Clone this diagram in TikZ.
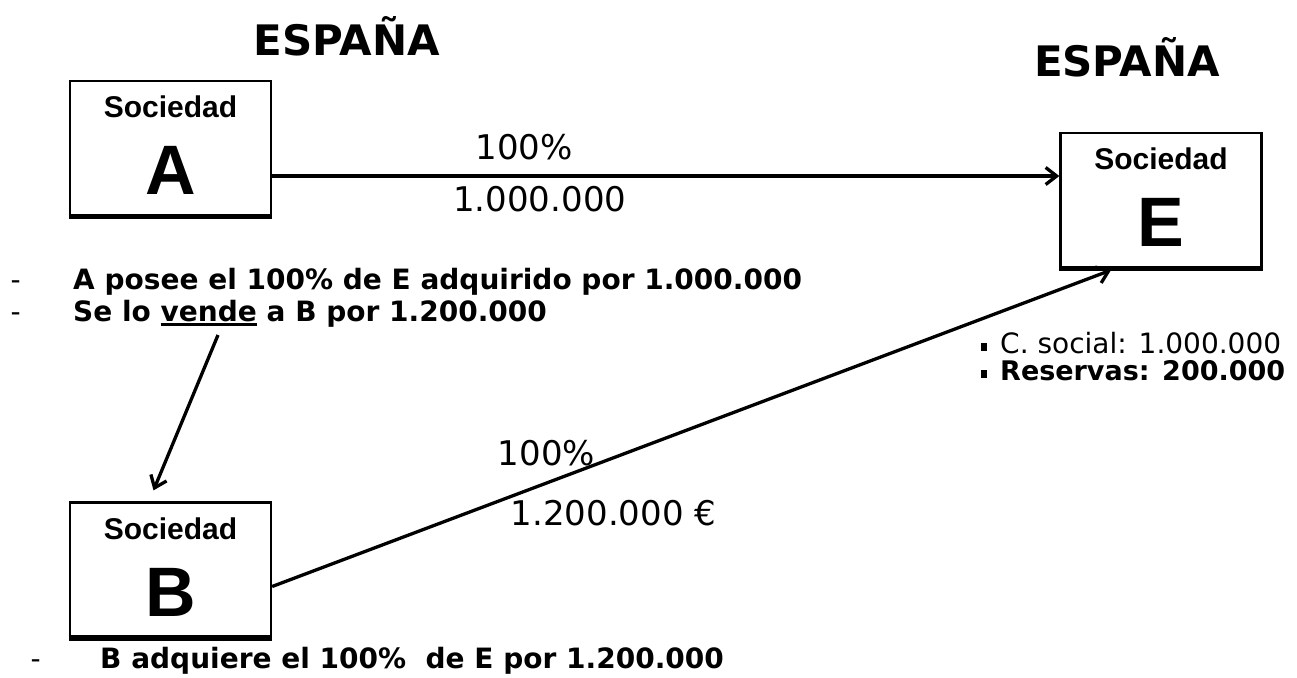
\documentclass[tikz,border=0pt]{standalone}
\usepackage{fontspec}
\setmainfont{DejaVu Sans}
\newfontfamily\arialfont{Liberation Sans}
\usetikzlibrary{arrows.meta, calc, positioning}
\newcommand{\pxsize}[1]{\fontsize{#1}{#1}\selectfont}
\newcommand{\dashmark}[1]{\makebox[#1][l]{\mdseries-}}
\newcommand{\sqmark}{\makebox[19pt][l]{\rule[2pt]{6pt}{8pt}}}
\newcommand{\ulined}[1]{\setbox0\hbox{#1}\rlap{\rule[-4.5pt]{\wd0}{2.5pt}}\box0\relax}
\tikzstyle{block} = [draw, line width=2.3pt, minimum width=201pt,
    minimum height=136pt, inner sep=0pt]
\tikzstyle{soclabel} = [font=\arialfont\bfseries\pxsize{30}, anchor=north,
    inner sep=0pt, yshift=-16pt]
\tikzstyle{letlabel} = [font=\arialfont\bfseries\pxsize{70}, anchor=south,
    inner sep=0pt, yshift=23pt]
\tikzstyle{thickbase} = [line width=5.5pt]
\tikzset{link/.style={line width=3.3pt,
    -{Straight Barb[length=11pt,width=17pt]}}}
\tikzstyle{country} = [font=\bfseries\pxsize{42}, anchor=base, inner sep=0pt]
\tikzstyle{amount} = [font=\pxsize{34}]
\tikzstyle{note} = [font=\bfseries\pxsize{28}, anchor=base west, inner sep=0pt]
\tikzstyle{capital} = [font=\pxsize{28}, anchor=base west, inner sep=0pt]

\begin{document}
\begin{tikzpicture}[x=1pt, y=-1pt]
  \useasboundingbox (0,0) rectangle (1297,677);

  % Place the blocks
  \node [country] (es-left) at (347,56) {ESPAÑA};
  \node [country] (es-right) at (1127,77) {ESPAÑA};
  \node [block, label={[soclabel]north:Sociedad},
    label={[letlabel]south:A}] (A) at (170.5,149) {};
  \node [block, label={[soclabel]north:Sociedad},
    label={[letlabel]south:E}] (E) at (1161,201) {};
  \node [block, label={[soclabel]north:Sociedad},
    label={[letlabel]south:B}] (B) at (170.5,570.5) {};
  \foreach \n in {A,E,B}
    \draw [thickbase] ([yshift=1.5pt]\n.south west) -- ([yshift=1.5pt]\n.south east);

  % Notes
  \node [note] (own) at (10.5,289)
    {\dashmark{62.5pt}A posee el 100\% de E adquirido por 1.000.000};
  \node [note] (sell) at (10.5,321)
    {\dashmark{62.5pt}Se lo \ulined{vende} a B por 1.200.000};
  \node [note] (buy) at (30.5,668)
    {\dashmark{69.5pt}B adquiere el 100\% \ de E por 1.200.000};
  \node [capital] (social) at (981,353) {\sqmark C. social: 1.000.000};
  \node [capital, font=\bfseries\pxsize{27}] (reserves) at (981,380)
    {\sqmark Reservas: 200.000};
  \coordinate (sold) at (218,335);

  % Connect the nodes
  \draw [link] ([yshift=-27pt]A.east) -- ([yshift=-27pt]A.east -| E.west)
    node [amount, pos=0.32, above=11pt] {100\%}
    node [amount, pos=0.34, below=5pt] {1.000.000};
  \draw [link] ([yshift=-16pt]B.east) -- ([xshift=-50pt]E.south)
    node [amount, pos=0.327, above=12pt] {100\%}
    node [amount, pos=0.407, below=38pt] {1.200.000 €};
  \draw [link] (sold) -- ([xshift=-17pt,yshift=11pt]B.north);
\end{tikzpicture}
\end{document}
